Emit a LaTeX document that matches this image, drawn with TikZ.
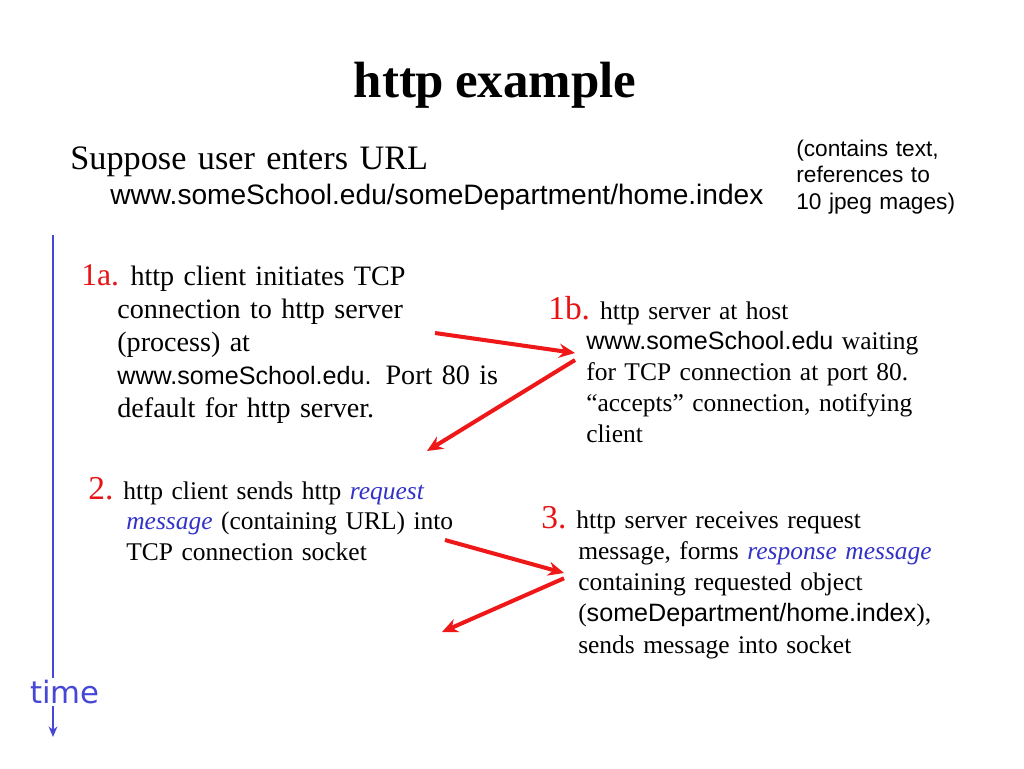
\documentclass[tikz,border=0pt]{standalone}
\usepackage{fontspec}
\setmainfont{Liberation Serif}[WordSpace=0.85]
\setsansfont{Liberation Sans}
\newfontfamily\handfont{DejaVu Sans}
\usetikzlibrary{arrows.meta}
\definecolor{numred}{RGB}{230,20,20}
\definecolor{arrred}{RGB}{238,24,24}
\definecolor{timeblue}{RGB}{70,70,215}
\definecolor{wordblue}{RGB}{50,50,200}
\def\site#1{{\sffamily\fontsize{14.3}{17}\selectfont #1}}
\def\stepno#1{{\color{numred}\fontsize{19}{19}\selectfont #1}\hspace{-1.5pt}}
\def\term#1{{\color{wordblue}\itshape #1}}
\tikzset{
	block/.style={anchor=base west, inner sep=0pt, text width=12cm, align=left},
	redarrow/.style={draw=arrred, line width=2.3pt, -{Stealth[length=9pt,width=8pt]}},
}

\begin{document}
\begin{tikzpicture}[x=0.02cm, y=-0.02cm]
				\useasboundingbox (0,0) rectangle (1024,768);
				
				\node[anchor=base, inner sep=0pt, font=\fontsize{29}{36}\selectfont\bfseries] (title) at (495,97) {http example};
				
				\node[block, font=\fontsize{19.5}{23}\selectfont] (suppose) at (70,169) {Suppose user enters URL};
				\node[block, font=\sffamily\fontsize{16}{19}\selectfont] (url) at (110,204) {www.someSchool.edu/someDepartment/home.index};
				\node[block, text width=4cm, font=\sffamily\fontsize{12.9}{15.3}\selectfont] (note) at (796,156) {(contains text,\\references to\\10 jpeg mages)};
				
				\node[block, font=\fontsize{16}{18.8}\selectfont] (stepOneA) at (81,285) {{\color{numred}\fontsize{18}{18}\selectfont 1a.}\hspace{-1.5pt} http client initiates TCP\\
					\hspace*{20.5pt}connection to http server\\
					\hspace*{20.5pt}(process) at\\
					\hspace*{20.5pt}\site{www.someSchool.edu.} Port 80 is\\
					\hspace*{20.5pt}default for http server.};
				
				\node[block, font=\fontsize{14.5}{17.6}\selectfont] (stepOneB) at (548,319) {\stepno{1b.} http server at host\\
					\hspace*{21.6pt}\site{www.someSchool.edu} waiting\\
					\hspace*{21.6pt}for TCP connection at port 80.\\
					\hspace*{21.6pt}“accepts” connection, notifying\\
					\hspace*{21.6pt}client};
				
				\node[block, font=\fontsize{14.5}{17.6}\selectfont] (stepTwo) at (88,499) {\stepno{2.} http client sends http \term{request}\\
					\hspace*{21.6pt}\term{message} (containing URL) into\\
					\hspace*{21.6pt}TCP connection socket};
				
				\node[block, font=\fontsize{14.5}{17.8}\selectfont] (stepThree) at (541,528) {\stepno{3.} http server receives request\\
					\hspace*{21pt}message, forms \term{response message}\\
					\hspace*{21pt}containing requested object\\
					\hspace*{21pt}(\site{someDepartment/home.index}),\\
					\hspace*{21pt}sends message into socket};
				
				\coordinate (connA) at (435,333);
				\coordinate (connB) at (575,353);
				\coordinate (connC) at (427,451);
				\draw[redarrow] (connA) -- (connB);
				\draw[redarrow] ([yshift=-4]connB) -- (connC);
				
				\coordinate (reqA) at (445,540);
				\coordinate (reqB) at (564,573);
				\coordinate (reqC) at (442,632);
				\draw[redarrow] (reqA) -- (reqB);
				\draw[redarrow] ([yshift=-3]reqB) -- (reqC);
				
				\node[inner sep=1pt, text=timeblue, font=\handfont\fontsize{17.5}{20}\selectfont] (timelabel) at (65,692) {time};
				\coordinate (timetop) at (53,235);
				\coordinate (timeend) at (53,737);
				\draw[timeblue, line width=1.2pt] (timetop) -- (timetop |- timelabel.north);
				\draw[timeblue, line width=1.2pt, -{Stealth[length=6pt,width=5pt]}] (timetop |- timelabel.south) -- (timeend);
			\end{tikzpicture}
\end{document}
